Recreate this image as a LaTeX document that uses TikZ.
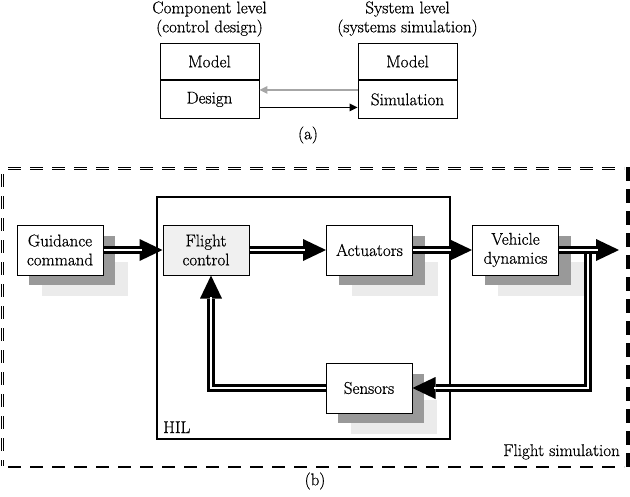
\documentclass[tikz,border=0pt]{standalone}
\usepackage{fontspec}
\setmainfont{Latin Modern Roman}[FakeBold=0.6]
\usetikzlibrary{arrows.meta}
\begin{document}
\begin{tikzpicture}[x=1pt,y=-1pt,
  font=\fontsize{17}{19}\selectfont,
  lbl/.style={inner sep=0pt, align=center},
  half/.style={draw, line width=0.9pt, fill=white, minimum width=99pt, inner sep=0pt},
  blk/.style={draw, line width=1pt, fill=white, minimum width=86pt, minimum height=50pt, inner sep=0pt, align=center},
  darksh/.style={fill=black!40},
  lightsh/.style={fill=black!8},
  dblarrow/.style={line width=8.5pt, line join=miter, -{Triangle[length=23pt,width=22pt,line width=0pt]},
    postaction={draw=white, line width=2.5pt, arrows=-, shorten >=21pt}},
  thinarrow/.style={line width=1.4pt, -{Triangle[length=8pt,width=8pt,line width=0pt]}},
  dashdbl/.style={line width=1pt, double=white, double distance=1.5pt, dash pattern=on 13pt off 9pt},
]
\useasboundingbox (0,0) rectangle (630,496);

% ---------- (a) ----------
\node[lbl] (cl) at (209.5,19) {Component level\\(control design)};
\node[lbl] (sl) at (407.5,19) {System level\\(systems simulation)};

\node[half, minimum height=35.5pt] (lm) at (209.5,61.5) {Model};
\node[half, minimum height=38.5pt, anchor=north] (ld) at (lm.south) {Design};
\node[half, minimum height=36.5pt] (rm) at (407.5,61.5) {Model};
\node[half, minimum height=37.5pt, anchor=north] (rs) at (rm.south) {Simulation};

\draw[thinarrow, black!35, line width=2pt] ([yshift=9.5pt]rs.west) -- ([yshift=9.5pt]rs.west -| ld.east);
\draw[thinarrow] ([yshift=-8pt]ld.east) -- ([yshift=-8pt]ld.east -| rs.west);

\node[lbl] (capa) at (308,135) {(a)};

% ---------- (b) ----------
\draw[dashdbl] (8,168.5) -- (624,168.5);
\draw[dashdbl] (2.5,174) -- (2.5,466);
\draw[line width=4pt, dash pattern=on 14pt off 8pt] (627.5,167) -- (627.5,468);
\draw[line width=2pt, dash pattern=on 13pt off 9pt] (8,467) -- (624,467);

\draw[line width=1.4pt] (157,197) rectangle (450,439);
\node[inner sep=0pt, anchor=base west] (hil) at (163,433) {HIL};
\node[inner sep=0pt, anchor=base east] (fs) at (620,456) {Flight simulation};

% shadows and blocks
\foreach \n/\x/\y in {g/60/250, ac/369.5/250, ve/515.5/250, se/369/388} {
  \fill[lightsh] (\x-43+25,\y-25+37) rectangle (\x+43+25,\y+25+21);
  \fill[darksh] (\x-43+12,\y-25+11) rectangle (\x+43+12,\y+25+10);
}
\node[blk] (g) at (60,250) {Guidance\\command};
\node[blk, fill=black!6] (fc) at (206,250) {Flight\\control};
\node[blk] (ac) at (369.5,250) {Actuators};
\node[blk] (ve) at (515.5,250) {Vehicle\\dynamics};
\node[blk] (se) at (369,388) {Sensors};

\coordinate (br) at (588,250);
\coordinate (out) at (619,250);

% feedback
\draw[dblarrow] (br) |- (se.east);
\draw[dblarrow] (se.west) -| ([xshift=5pt]fc.south);

% forward path
\draw[dblarrow] (g.east) -- (fc.west);
\draw[dblarrow] (fc.east) -- (ac.west);
\draw[dblarrow] (ac.east) -- (ve.west);
\draw[dblarrow] (ve.east) -- (out);

\node[lbl] (capb) at (315,481) {(b)};
\end{tikzpicture}
\end{document}
